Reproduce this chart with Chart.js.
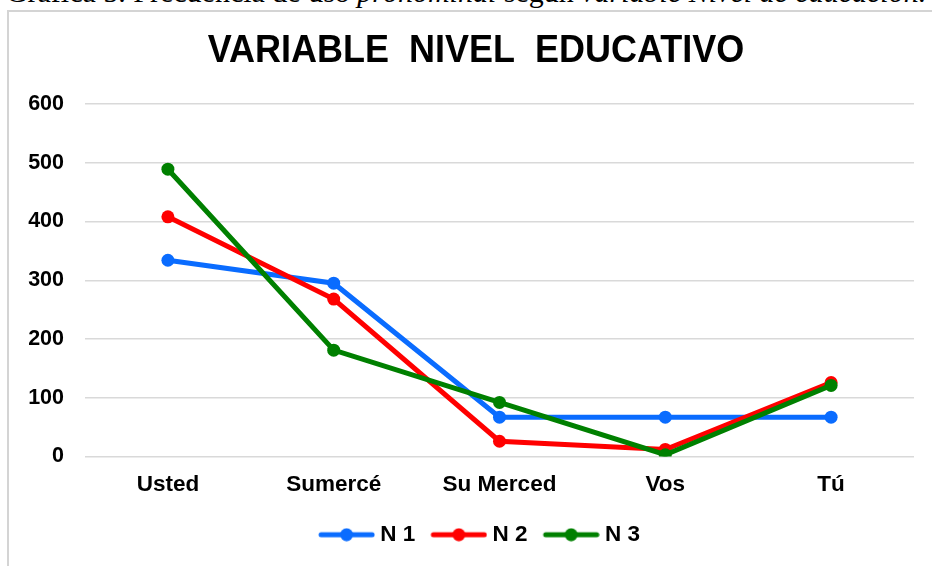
<!DOCTYPE html>
<html>
<head>
<meta charset="utf-8">
<script src="https://cdn.jsdelivr.net/npm/chart.js@4/dist/chart.umd.min.js"></script>
<style>
  html, body { margin: 0; padding: 0; background: #fff; overflow: hidden; }
  body { width: 932px; height: 566px; position: relative; }
  .caption {
    position: absolute; left: -4px; top: -25px; width: 940px;
    font-family: "Liberation Serif", "DejaVu Serif", serif; font-size: 30px;
    white-space: nowrap; text-align: center; color: #000;
  }
  .box {
    position: absolute; left: 7px; top: 10px; width: 925px; height: 556px;
    border-left: 2px solid #d4d4d4; border-top: 2px solid #d4d4d4;
  }
  canvas { display: block; }
</style>
</head>
<body>
<div class="caption">Gráfica 5. Frecuencia de uso <i>pronominal</i> según <i>variable Nivel de educación.</i></div>
<div class="box"><canvas id="grafico" width="923" height="554"></canvas></div>
<script>
const titolo = 'VARIABLE  NIVEL  EDUCATIVO'
const categorias = ['Usted', 'Sumercé', 'Su Merced', 'Vos', 'Tú']
const nivel1 = [334, 295, 67, 67, 67]
const nivel2 = [408, 268, 26, 12, 126]
const nivel3 = [489, 181, 92, 3, 121]
const etiquetasY = [0, 100, 200, 300, 400, 500, 600]

const colori = { n1: '#0a6cff', n2: '#ff0000', n3: '#008000' }

// simbolo della legenda: linea con punto (box largo 56, la linea finisce poco prima del testo)
function simboloLegenda(colore) {
    const c = document.createElement('canvas')
    c.width = 68
    c.height = 14
    const ctx = c.getContext('2d')
    ctx.strokeStyle = colore
    ctx.lineWidth = 5
    ctx.lineCap = 'round'
    ctx.beginPath()
    ctx.moveTo(14, 7)
    ctx.lineTo(65, 7)
    ctx.stroke()
    ctx.fillStyle = colore
    ctx.beginPath()
    ctx.arc(39.5, 7, 6.5, 0, Math.PI * 2)
    ctx.fill()
    return c
}

const serie = [
    { label: 'N 1', data: nivel1, colore: colori.n1, order: 2 },
    { label: 'N 2', data: nivel2, colore: colori.n2, order: 1 },
    { label: 'N 3', data: nivel3, colore: colori.n3, order: 0 }
]

const font = 'Liberation Sans, Arial, sans-serif'

// titolo disegnato a mano, un po' più a destra e leggermente allungato
const pluginTitolo = {
    id: 'titolo',
    afterLayout(chart) {
        // sposta la legenda verso destra come nell'originale
        chart.legend.left += 30
    },
    afterDraw(chart) {
        const ctx = chart.ctx
        ctx.save()
        ctx.translate(467, 39)
        ctx.scale(1, 1.07)
        ctx.font = 'bold 36px ' + font
        ctx.fillStyle = '#000'
        ctx.textAlign = 'center'
        ctx.textBaseline = 'middle'
        ctx.fillText(titolo, 0, 0)
        ctx.restore()
    }
}

new Chart(document.getElementById('grafico'), {
    type: 'line',
    data: {
        labels: categorias,
        datasets: serie.map(s => ({
            label: s.label,
            data: s.data,
            borderColor: s.colore,
            backgroundColor: s.colore,
            pointBackgroundColor: s.colore,
            pointBorderWidth: 0,
            pointRadius: 6.5,
            borderWidth: 5,
            tension: 0,
            order: s.order
        }))
    },
    plugins: [pluginTitolo],
    options: {
        responsive: false,
        animation: false,
        layout: { padding: { left: 0, right: 18, top: 92, bottom: 10 } },
        plugins: {
            title: { display: false },
            legend: {
                position: 'bottom',
                labels: {
                    usePointStyle: true,
                    pointStyleWidth: 56,
                    padding: 10,
                    color: '#000',
                    font: { family: font, size: 22.5, weight: 'bold' },
                    sort: (a, b) => a.datasetIndex - b.datasetIndex,
                    generateLabels(chart) {
                        const base = Chart.defaults.plugins.legend.labels.generateLabels(chart)
                        return base.map(item => {
                            item.pointStyle = simboloLegenda(serie[item.datasetIndex].colore)
                            return item
                        })
                    }
                }
            },
            tooltip: { enabled: false }
        },
        scales: {
            x: {
                offset: true,
                grid: { display: false, drawTicks: false },
                border: { display: false },
                ticks: {
                    color: '#000',
                    padding: 15,
                    maxRotation: 0,
                    font: { family: font, size: 22.5, weight: 'bold' }
                }
            },
            y: {
                min: 0,
                max: 600,
                afterFit(scale) { scale.width = 76 },
                afterBuildTicks(scale) { scale.ticks = etiquetasY.map(v => ({ value: v })) },
                grid: { color: '#d9d9d9', lineWidth: 1.5, drawTicks: false },
                border: { display: false },
                ticks: {
                    color: '#000',
                    padding: 21,
                    font: { family: font, size: 21.5, weight: 'bold' }
                }
            }
        }
    }
})
</script>
</body>
</html>
